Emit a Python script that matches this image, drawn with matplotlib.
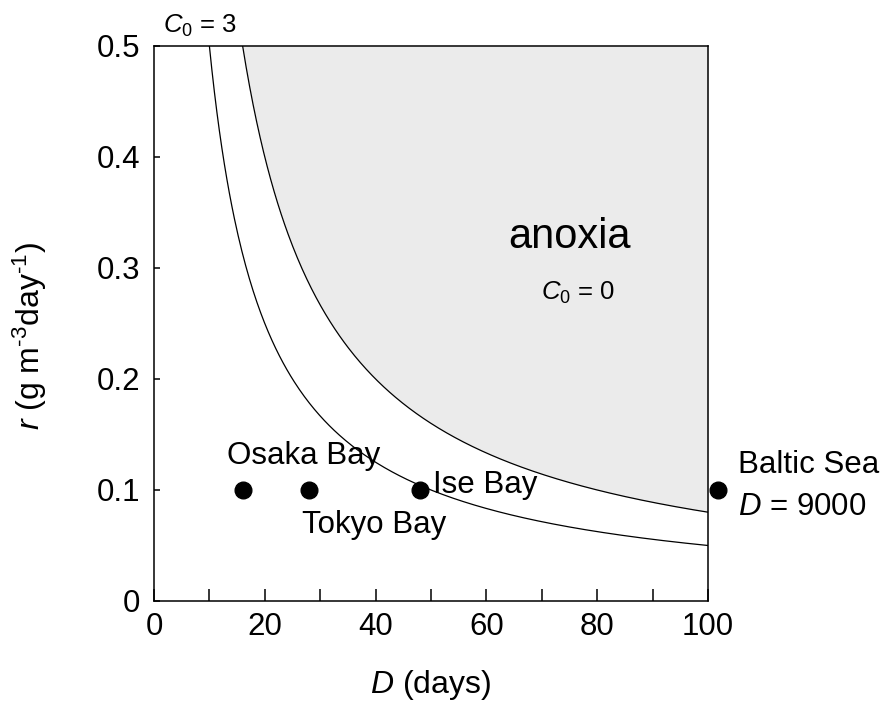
import numpy as np
import matplotlib
matplotlib.use("Agg")
import matplotlib.pyplot as plt

plt.rcParams["font.family"] = ["Liberation Sans", "DejaVu Sans"]
plt.rcParams["mathtext.fontset"] = "custom"
plt.rcParams["mathtext.rm"] = "Liberation Sans"
plt.rcParams["mathtext.it"] = "Liberation Sans:italic"
plt.rcParams["mathtext.default"] = "regular"

# Critical loading curves r = K / D for two initial oxygen levels
k_anoxia = 8.0      # C0 = 0 boundary
k_c0_3 = 5.0        # C0 = 3 boundary

# Bays (residence time D, loading r)
bay_names = ["Osaka Bay", "Tokyo Bay", "Ise Bay", "Baltic Sea"]
bay_D = [16, 28, 48, 101.8]
bay_r = [0.1, 0.1, 0.1, 0.1]

x_ticks = [0, 20, 40, 60, 80, 100]
x_minor = [10, 30, 50, 70, 90]
y_ticks = [0, 0.1, 0.2, 0.3, 0.4, 0.5]
y_ticklabels = ["0", "0.1", "0.2", "0.3", "0.4", "0.5"]

fig = plt.figure(figsize=(8.84, 7.13), dpi=100)
ax = fig.add_axes([0.1742, 0.1571, 0.8009 - 0.1742, 0.9355 - 0.1571])
ax.set_xlim(0, 100)
ax.set_ylim(0, 0.5)

d_hi = np.linspace(k_anoxia / 0.5, 100, 400)
r_hi = k_anoxia / d_hi
d_lo = np.linspace(k_c0_3 / 0.5, 100, 400)
r_lo = k_c0_3 / d_lo

ax.fill_between(d_hi, r_hi, 0.5, color="#ebebeb", lw=0, zorder=1)
ax.plot(d_hi, r_hi, color="black", lw=0.9, zorder=2)
ax.plot(d_lo, r_lo, color="black", lw=0.9, zorder=2)

ax.plot(bay_D, bay_r, "o", color="black", ms=12, clip_on=False, zorder=5)

fs = 22.5
c0 = r"$\mathit{C}_{\mathit{0}}$"
ax.text(13.2, 0.1234, bay_names[0], fontsize=fs, va="baseline", ha="left")
ax.text(26.7, 0.0613, bay_names[1], fontsize=fs, va="baseline", ha="left")
ax.text(50.4, 0.097, bay_names[2], fontsize=fs, va="baseline", ha="left")
ax.text(105.4, 0.115, bay_names[3], fontsize=fs, va="baseline", ha="left", clip_on=False)
ax.text(105.4, 0.0775, r"$\mathit{D}$ = 9000", fontsize=fs, va="baseline", ha="left", clip_on=False)

ax.text(75, 0.318, "anoxia", fontsize=30, va="baseline", ha="center")
ax.text(76.5, 0.271, c0 + " = 0", fontsize=18.5, va="baseline", ha="center")
ax.text(1.6, 0.512, c0 + " = 3", fontsize=18.5, va="baseline", ha="left", clip_on=False)

ax.set_xticks(x_ticks)
ax.set_xticks(x_minor, minor=True)
ax.set_yticks(y_ticks)
ax.set_yticklabels(y_ticklabels)
ax.tick_params(axis="x", which="both", direction="in", length=9, width=1.1,
               labelsize=22.5, pad=8, top=False)
ax.tick_params(axis="y", which="both", direction="in", length=4.5, width=1.1,
               labelsize=22.5, pad=10, right=False)
for s in ax.spines.values():
    s.set_linewidth(1.1)

ax.set_xlabel(r"$\mathit{D}$ (days)", fontsize=23, labelpad=19)
ax.set_ylabel(r"$\mathit{r}$ (g m$^{\text{-3}}$day$^{\text{-1}}$)", fontsize=23)
ax.yaxis.set_label_coords(-0.19, 0.477)

fig.savefig("out.png", dpi=100)
